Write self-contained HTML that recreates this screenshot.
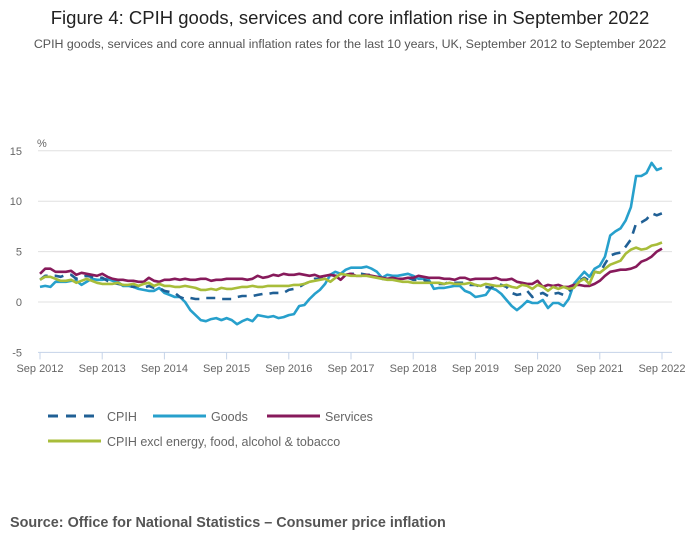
<!DOCTYPE html>
<html><head><meta charset="utf-8">
<style>
body{margin:0;width:700px;height:549px;background:#fff;font-family:"Liberation Sans",sans-serif;overflow:hidden}
</style></head><body>
<svg width="700" height="549" xmlns="http://www.w3.org/2000/svg">
<text x="350" y="24" text-anchor="middle" font-size="18.5" fill="#222">Figure 4: CPIH goods, services and core inflation rise in September 2022</text>
<text x="350" y="48" text-anchor="middle" font-size="12.4" fill="#555">CPIH goods, services and core annual inflation rates for the last 10 years, UK, September 2012 to September 2022</text>
<text x="37" y="147" font-size="11" fill="#666">%</text>
<g id="grid"></g><g id="xaxis"></g><g id="series"></g>
<g>
<line x1="48" y1="416" x2="101" y2="416" stroke="#206095" stroke-width="3" stroke-dasharray="10,8"/>
<text x="107" y="421" font-size="12.5" fill="#666">CPIH</text>
<line x1="153" y1="416" x2="206" y2="416" stroke="#27a0cc" stroke-width="3"/>
<text x="211" y="421" font-size="12.5" fill="#666">Goods</text>
<line x1="267" y1="416" x2="320" y2="416" stroke="#871a5b" stroke-width="3"/>
<text x="325" y="421" font-size="12.5" fill="#666">Services</text>
<line x1="48" y1="441" x2="101" y2="441" stroke="#a8bd3a" stroke-width="3"/>
<text x="107" y="446" font-size="12.5" fill="#666">CPIH excl energy, food, alcohol &amp; tobacco</text>
</g>
<text x="10" y="527" font-size="14.4" font-weight="bold" fill="#555">Source: Office for National Statistics – Consumer price inflation</text>
</svg>
<script>
const yTicks=[15,10,5,0,-5];
const xTickLabels=["Sep 2012","Sep 2013","Sep 2014","Sep 2015","Sep 2016","Sep 2017","Sep 2018","Sep 2019","Sep 2020","Sep 2021","Sep 2022"];
const cpih=[2.2,2.6,2.6,2.6,2.5,2.7,2.7,2.3,2.5,2.6,2.5,2.4,2.4,2.1,1.9,1.8,1.7,1.6,1.5,1.6,1.4,1.6,1.4,1.4,1.1,1.0,0.9,0.5,0.3,0.4,0.3,0.3,0.4,0.4,0.4,0.3,0.3,0.3,0.5,0.6,0.6,0.6,0.7,0.8,0.8,0.9,0.9,0.9,1.2,1.3,1.5,1.8,2.0,2.3,2.3,2.6,2.7,2.6,2.6,2.7,2.8,2.8,2.8,2.7,2.7,2.5,2.3,2.2,2.3,2.3,2.3,2.4,2.2,2.2,2.2,2.0,1.8,1.8,1.8,2.0,1.9,1.9,1.9,1.7,1.7,1.5,1.5,1.4,1.8,1.7,1.5,0.9,0.7,0.8,1.1,0.5,0.7,0.9,0.6,0.8,0.9,0.7,1.0,1.6,2.1,2.4,2.1,3.0,2.9,3.8,4.6,4.8,4.9,5.5,6.2,7.8,7.9,8.2,8.8,8.6,8.8];
const goods=[1.5,1.6,1.5,2.0,2.0,2.0,2.1,2.1,1.7,2.0,2.3,2.2,2.2,2.3,2.1,2.0,1.6,1.6,1.5,1.3,1.2,1.1,1.1,1.4,0.9,0.7,0.5,0.5,0.0,-0.8,-1.3,-1.8,-1.9,-1.7,-1.6,-1.8,-1.6,-1.8,-2.2,-1.9,-1.7,-1.9,-1.3,-1.4,-1.5,-1.4,-1.6,-1.5,-1.3,-1.2,-0.4,-0.3,0.3,0.8,1.2,1.8,2.7,3.0,2.8,3.2,3.4,3.4,3.4,3.5,3.3,3.0,2.4,2.7,2.6,2.6,2.7,2.8,2.6,2.3,2.3,2.2,1.3,1.4,1.4,1.5,1.6,1.6,1.1,0.9,0.5,0.6,0.7,1.4,1.2,0.8,0.2,-0.4,-0.8,-0.4,0.1,-0.1,-0.1,0.2,-0.6,-0.1,-0.1,-0.4,0.3,1.8,2.4,3.0,2.5,3.3,3.6,4.5,6.6,7.0,7.3,8.1,9.4,12.5,12.5,12.8,13.8,13.1,13.3];
const services=[2.8,3.3,3.3,3.0,3.0,3.0,3.1,2.7,2.9,2.8,2.7,2.6,2.8,2.5,2.3,2.2,2.2,2.1,2.1,2.0,2.0,2.4,2.1,2.0,2.2,2.2,2.3,2.2,2.3,2.2,2.2,2.3,2.3,2.1,2.2,2.2,2.3,2.3,2.3,2.3,2.2,2.3,2.6,2.4,2.5,2.7,2.6,2.8,2.7,2.7,2.8,2.7,2.6,2.7,2.5,2.6,2.7,2.6,2.2,2.7,2.8,2.6,2.6,2.7,2.6,2.5,2.4,2.3,2.4,2.3,2.3,2.4,2.4,2.6,2.5,2.4,2.4,2.4,2.3,2.3,2.2,2.4,2.4,2.2,2.3,2.3,2.3,2.3,2.4,2.2,2.2,2.3,2.0,1.9,1.8,1.8,2.1,1.5,1.7,1.6,1.7,1.5,1.5,1.7,1.7,1.6,1.6,1.8,2.1,2.6,3.0,3.1,3.2,3.2,3.3,3.5,4.0,4.2,4.5,5.0,5.3];
const core=[2.2,2.5,2.5,2.3,2.1,2.1,2.2,1.9,2.1,2.3,2.1,1.9,1.8,1.8,1.8,1.9,1.7,1.7,1.8,1.6,1.8,1.9,1.6,1.8,1.6,1.6,1.5,1.5,1.6,1.5,1.4,1.2,1.2,1.3,1.2,1.4,1.3,1.3,1.4,1.5,1.5,1.6,1.5,1.5,1.6,1.6,1.6,1.6,1.6,1.7,1.7,1.8,2.0,2.1,2.2,2.3,2.0,2.4,2.8,2.7,2.6,2.6,2.6,2.6,2.5,2.4,2.3,2.2,2.2,2.1,2.0,2.0,1.9,1.9,1.9,1.9,1.9,1.9,1.8,1.9,1.8,1.8,1.8,1.9,1.7,1.6,1.8,1.7,1.6,1.6,1.7,1.5,1.4,1.7,1.6,1.3,1.7,1.5,1.1,1.5,1.3,1.5,1.3,1.4,2.0,2.3,1.8,3.0,2.9,3.3,3.7,3.9,4.1,4.8,5.2,5.4,5.2,5.3,5.6,5.7,5.9];

const NS="http://www.w3.org/2000/svg";
const X0=40,X1=662,Y0=302,PU=10.08;
function xs(i){return X0+(X1-X0)*i/120;}
function ys(v){return Y0-v*PU;}
function mk(t,a,p){const e=document.createElementNS(NS,t);for(const k in a)e.setAttribute(k,a[k]);p.appendChild(e);return e;}
const grid=document.getElementById('grid');
yTicks.forEach(v=>{
  const l=mk('line',{x1:X0-2,x2:X1+10,y1:ys(v),y2:ys(v),stroke:v===-5?'#c5d3e8':'#e0e0e0','stroke-width':1},grid);
  
  
  const t=mk('text',{x:22,y:ys(v)+4,'text-anchor':'end','font-size':11,fill:'#666'},grid);
  t.textContent=v;
  
  
});
const xa=document.getElementById('xaxis');
xTickLabels.forEach((s,i)=>{
  const x=xs(i*12);
  const l=mk('line',{x1:x,x2:x,y1:ys(-5),y2:ys(-5)+7,stroke:'#c5d3e8','stroke-width':1},xa);
  
  
  const t=mk('text',{x:x,y:372,'text-anchor':'middle','font-size':11,fill:'#666'},xa);
  t.textContent=s;
  
  
});
const sg=document.getElementById('series');
function line(d,col,name,dash){
  const pts=d.map((v,i)=>xs(i).toFixed(1)+','+ys(v).toFixed(1)).join(' ');
  const p=mk('polyline',{points:pts,fill:'none',stroke:col,'stroke-width':2.6,'stroke-linejoin':'round'},sg);
  if(dash)p.setAttribute('stroke-dasharray','9,7');
  
  
}
line(goods,'#27a0cc','goods-line');
line(cpih,'#206095','cpih-line',true);
line(services,'#871a5b','services-line');
line(core,'#a8bd3a','core-line');
</script>
</body></html>
